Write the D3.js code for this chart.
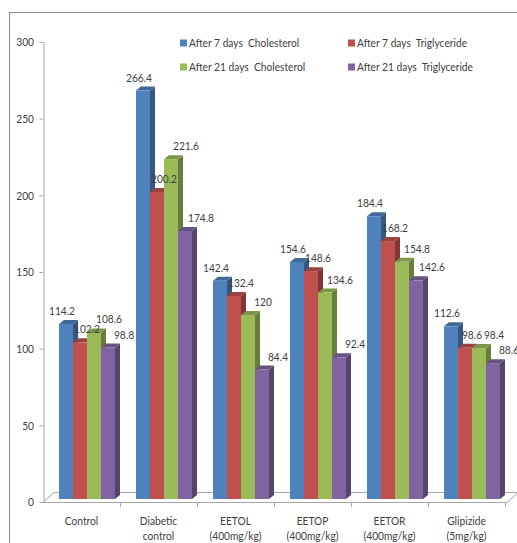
<!DOCTYPE html>
<html>
<head>
<meta charset="utf-8">
<script src="https://cdn.jsdelivr.net/npm/d3@7"></script>
<style>
  html, body { margin: 0; padding: 0; background: #fff; }
  svg { display: block; }
  text { font-family: Lato, "Liberation Sans", sans-serif; fill: #404040; }
</style>
</head>
<body>
<svg id="chart" width="517" height="543"></svg>
<script>
// Treatment groups (a "\n" splits the axis label over two lines)
const categories = ["Control", "Diabetic\ncontrol", "EETOL\n(400mg/kg)", "EETOP\n(400mg/kg)", "EETOR\n(400mg/kg)", "Glipizide\n(5mg/kg)"];
const seriesNames = ["After 7 days  Cholesterol", "After 7 days  Triglyceride", "After 21 days  Cholesterol", "After 21 days  Triglyceride"];
const cholesterol7 = [114.2, 266.4, 142.4, 154.6, 184.4, 112.6];
const triglyceride7 = [102.2, 200.2, 132.4, 148.6, 168.2, 98.6];
const cholesterol21 = [108.6, 221.6, 120, 134.6, 154.8, 98.4];
const triglyceride21 = [98.8, 174.8, 84.4, 92.4, 142.6, 88.6];
const yTicks = [0, 50, 100, 150, 200, 250, 300];

const seriesValues = [cholesterol7, triglyceride7, cholesterol21, triglyceride21];
const colors = ["#4F81BD", "#C0504D", "#9BBB59", "#8064A2"];
const FONT = 12;
const NARROW = 0.85;   // horizontal squeeze for a condensed look

const svg = d3.select("#chart");

// text placed through a transform so it can be horizontally condensed
function narrowText(parent, px, py, anchor) {
  return parent.append("text")
    .attr("transform", `translate(${px},${py}) scale(${NARROW},1)`)
    .attr("text-anchor", anchor || "start")
    .attr("font-size", FONT);
}

// frame around the chart area
svg.append("rect")
  .attr("x", 9.5).attr("y", 12.5).attr("width", 700).attr("height", 700)
  .attr("fill", "none").attr("stroke", "#8c8c8c").attr("stroke-width", 1);

const y = d3.scaleLinear().domain([0, 300]).range([502, 42]);
const x = d3.scaleBand().domain(categories).range([43, 505]);
const inner = d3.scaleBand().domain(d3.range(seriesNames.length)).range([16, 72]);

// 3D geometry: floor depth and bar depth (pixels)
const floorDX = 11, floorDY = -10;
const recessY = -3;
const barDX = 5, barDY = -4;

// floor
const y0 = y(0);
const xL = 43, xR = 507;
svg.append("path")
  .attr("d", `M${xL},${y0 + 0.5}L${xL + floorDX},${y0 + floorDY + 0.5}L${xR + floorDX},${y0 + floorDY + 0.5}L${xR},${y0 + 0.5}Z`)
  .attr("fill", "none").attr("stroke", "#a6a6a6").attr("stroke-width", 1);

// category boundary ticks below the floor edge
const bounds = d3.range(categories.length + 1).map(i => 43 + i * x.step());
svg.append("g").selectAll("line").data(bounds.slice(1)).join("line")
  .attr("x1", d => Math.round(d) + 0.5).attr("x2", d => Math.round(d) + 0.5)
  .attr("y1", y0).attr("y2", y0 + 5)
  .attr("stroke", "#a6a6a6");

// y axis
const yAxis = svg.append("g")
  .attr("transform", "translate(43.5,0)")
  .call(d3.axisLeft(y).tickValues(yTicks).tickSize(4).tickSizeOuter(0).tickPadding(5));
yAxis.attr("font-family", null).attr("font-size", null);
yAxis.select(".domain").attr("stroke", "#a6a6a6");
yAxis.selectAll(".tick line").attr("stroke", "#a6a6a6");
yAxis.selectAll(".tick text")
  .attr("font-size", FONT)
  .attr("x", -9.5 / NARROW)
  .attr("transform", `scale(${NARROW},1)`)
  .style("fill", "#404040");

// category labels
const catG = svg.append("g");
categories.forEach(c => {
  const cx = x(c) + x.bandwidth() / 2;
  const t = narrowText(catG, cx, 525, "middle");
  c.split("\n").forEach((ln, i) => {
    t.append("tspan").attr("x", 0).attr("dy", i === 0 ? 0 : 15).text(ln);
  });
});

// bars
const barsG = svg.append("g");
const bw = inner.bandwidth();
categories.forEach((c, ci) => {
  seriesValues.forEach((vals, si) => {
    const v = vals[ci];
    const x0 = x(c) + inner(si);
    const x1 = x0 + bw;
    const top = y(v) + recessY;
    const bot = y(0) + recessY;
    const col = d3.color(colors[si]);
    const g = barsG.append("g");
    // side face
    g.append("path")
      .attr("d", `M${x1},${bot}L${x1 + barDX},${bot + barDY}L${x1 + barDX},${top + barDY}L${x1},${top}Z`)
      .attr("fill", col.darker(1.1));
    // top face
    g.append("path")
      .attr("d", `M${x0},${top}L${x0 + barDX},${top + barDY}L${x1 + barDX},${top + barDY}L${x1},${top}Z`)
      .attr("fill", col.darker(0.6));
    // front face
    g.append("rect")
      .attr("x", x0).attr("y", top).attr("width", bw).attr("height", bot - top)
      .attr("fill", colors[si]);
  });
});

// value labels
const labelDX = [-4, 7, 15, 16];
const labelsG = svg.append("g");
categories.forEach((c, ci) => {
  seriesValues.forEach((vals, si) => {
    const v = vals[ci];
    narrowText(labelsG, x(c) + inner(si) + bw / 2 + labelDX[si], y(v) + recessY - 9, "middle")
      .text(String(v));
  });
});

// legend (2 x 2)
const legendPos = [[180, 43], [348, 43], [180, 67], [348, 67]];
const legG = svg.append("g");
seriesNames.forEach((name, i) => {
  const [lx, ly] = legendPos[i];
  legG.append("rect")
    .attr("x", lx).attr("y", ly - 3.5).attr("width", 7).attr("height", 7)
    .attr("fill", colors[i]);
  narrowText(legG, lx + 9, ly + 4)
    .style("white-space", "pre")
    .text(name);
});
</script>
</body>
</html>
